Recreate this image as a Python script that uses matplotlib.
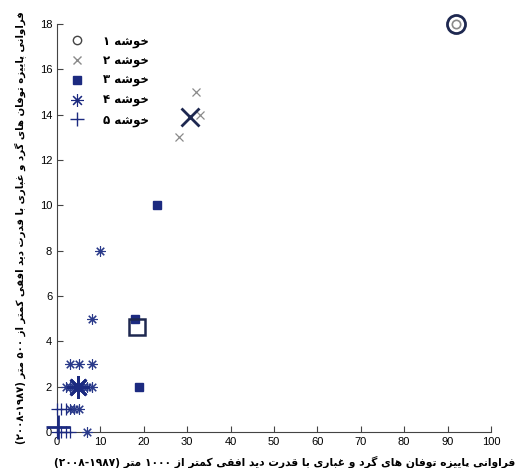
import numpy as np
from matplotlib import pyplot as plt
from matplotlib.lines import Line2D

# cluster members (x: >1000 m visibility, y: <500 m visibility)
c1_x = [92]
c1_y = [18]
c2_x = [28, 32, 33]
c2_y = [13, 15, 14]
c3_x = [18, 19, 23]
c3_y = [5, 2, 10]
c4_x = [8, 10, 3, 5, 8, 2, 3, 4, 5, 6, 7, 8, 3, 4, 5, 7]
c4_y = [5, 8, 3, 3, 3, 2, 2, 2, 2, 2, 2, 2, 1, 1, 1, 0]
c5_x = [0, 1, 2, 0, 1, 2, 3]
c5_y = [1, 1, 1, 0, 0, 0, 0]

# cluster centres
cent_x = [92, 30.6, 18.4, 4.9, 0.2]
cent_y = [18, 13.9, 4.65, 2.0, 0.2]

legend_names = ["خوشه ۱", "خوشه ۲", "خوشه ۳", "خوشه ۴", "خوشه ۵"]
xlabel_text = "فراوانی پاییزه توفان های گرد و غباری با قدرت دید افقی کمتر از ۱۰۰۰ متر (۱۹۸۷-۲۰۰۸)"
ylabel_text = "فراوانی پاییزه توفان های گرد و غباری با قدرت دید افقی کمتر از ۵۰۰ متر (۱۹۸۷-۲۰۰۸)"

xticks = np.arange(0, 101, 10)
yticks = np.arange(0, 19, 2)

# presentation forms: isolated, final, initial, medial (None -> right-joining only)
FORMS = {
    'ا': (0xFE8D, 0xFE8E, None, None),
    'ب': (0xFE8F, 0xFE90, 0xFE91, 0xFE92),
    'پ': (0xFB56, 0xFB57, 0xFB58, 0xFB59),
    'ت': (0xFE95, 0xFE96, 0xFE97, 0xFE98),
    'خ': (0xFEA5, 0xFEA6, 0xFEA7, 0xFEA8),
    'د': (0xFEA9, 0xFEAA, None, None),
    'ر': (0xFEAD, 0xFEAE, None, None),
    'ز': (0xFEAF, 0xFEB0, None, None),
    'ش': (0xFEB5, 0xFEB6, 0xFEB7, 0xFEB8),
    'غ': (0xFECD, 0xFECE, 0xFECF, 0xFED0),
    'ف': (0xFED1, 0xFED2, 0xFED3, 0xFED4),
    'ق': (0xFED5, 0xFED6, 0xFED7, 0xFED8),
    'ک': (0xFB8E, 0xFB8F, 0xFB90, 0xFB91),
    'گ': (0xFB92, 0xFB93, 0xFB94, 0xFB95),
    'م': (0xFEE1, 0xFEE2, 0xFEE3, 0xFEE4),
    'ن': (0xFEE5, 0xFEE6, 0xFEE7, 0xFEE8),
    'ه': (0xFEE9, 0xFEEA, 0xFEEB, 0xFEEC),
    'و': (0xFEED, 0xFEEE, None, None),
    'ی': (0xFBFC, 0xFBFD, 0xFBFE, 0xFBFF),
}
MIRROR = {'(': ')', ')': '('}


def persian(text):
    # contextual shaping
    out = []
    for i, ch in enumerate(text):
        if ch not in FORMS:
            out.append(ch)
            continue
        prev = text[i - 1] if i > 0 else ''
        nxt = text[i + 1] if i + 1 < len(text) else ''
        join_prev = prev in FORMS and FORMS[prev][2] is not None
        join_next = FORMS[ch][2] is not None and nxt in FORMS
        f = FORMS[ch]
        if join_prev and join_next:
            out.append(chr(f[3]))
        elif join_prev:
            out.append(chr(f[1]))
        elif join_next:
            out.append(chr(f[2]))
        else:
            out.append(chr(f[0]))
    # right-to-left ordering, digits keep their own order
    vis = out[::-1]
    res, run = [], []
    for ch in vis:
        if '\u06f0' <= ch <= '\u06f9':
            run.append(ch)
        else:
            res.extend(run[::-1])
            run = []
            res.append(MIRROR.get(ch, ch))
    res.extend(run[::-1])
    return ''.join(res)


navy = '#1c2a80'
dark = '#1e2850'
gray = '#8a8a8a'
ast = (8, 2, 0)

fig = plt.figure(figsize=(5.2, 4.68), dpi=100)
ax = fig.add_axes([0.1096, 0.0769, 0.8346, 0.8718])

ax.plot(c1_x, c1_y, 'o', ms=6, mfc='none', mec=gray, mew=1.2, clip_on=False, zorder=3)
ax.plot(c2_x, c2_y, 'x', ms=6, color=gray, mew=0.9, clip_on=False, zorder=3)
ax.plot(c3_x, c3_y, 's', ms=6, color=navy, clip_on=False, zorder=3)
ax.plot(c4_x, c4_y, ls='none', marker=ast, ms=7.5, color='#2a3a8a', mew=0.8, clip_on=False, zorder=3)
ax.plot(c5_x, c5_y, '+', ms=9, color=navy, mew=0.9, clip_on=False, zorder=3)

# centres
ax.plot(cent_x[0], cent_y[0], 'o', ms=13, mfc='none', mec=dark, mew=2, clip_on=False, zorder=4)
ax.plot(cent_x[1], cent_y[1], 'x', ms=13, color=dark, mew=2, clip_on=False, zorder=4)
ax.plot(cent_x[2], cent_y[2], 's', ms=12, mfc='none', mec=dark, mew=1.8, clip_on=False, zorder=4)
ax.plot(cent_x[3], cent_y[3], ls='none', marker=ast, ms=16, color=navy, mew=2, clip_on=False, zorder=4)
ax.plot(cent_x[4], cent_y[4], '+', ms=17, color=navy, mew=2, clip_on=False, zorder=4)

ax.set_xlim(0, 100)
ax.set_ylim(0, 18)
ax.set_xticks(xticks)
ax.set_yticks(yticks)
for s in ['top', 'right']:
    ax.spines[s].set_visible(False)
for s in ['left', 'bottom']:
    ax.spines[s].set_color('#444444')
    ax.spines[s].set_linewidth(0.8)
ax.tick_params(direction='in', length=4, width=0.8, color='#444444', labelsize=8)
for lab in ax.get_xticklabels() + ax.get_yticklabels():
    lab.set_family('Liberation Sans')

handles = [
    Line2D([], [], ls='none', marker='o', ms=6, mfc='none', mec='#444444'),
    Line2D([], [], ls='none', marker='x', ms=6, color=gray),
    Line2D([], [], ls='none', marker='s', ms=6, color=navy),
    Line2D([], [], ls='none', marker=ast, ms=9, color=navy, mew=0.8),
    Line2D([], [], ls='none', marker='+', ms=10, color=navy),
]
ax.legend(handles, [persian(t) for t in legend_names], loc='upper left',
          bbox_to_anchor=(0.01, 0.995), frameon=False, handlelength=1.2,
          handletextpad=1.6, labelspacing=0.55, borderaxespad=0.3,
          prop={'size': 8.5, 'weight': 'bold'})

ax.set_xlabel(persian(xlabel_text), fontsize=7.7, fontweight='bold')
ax.xaxis.set_label_coords(0.525, -0.056)
ax.set_ylabel(persian(ylabel_text), fontsize=7.3, fontweight='bold', labelpad=10)

fig.savefig('out.png', dpi=100)
